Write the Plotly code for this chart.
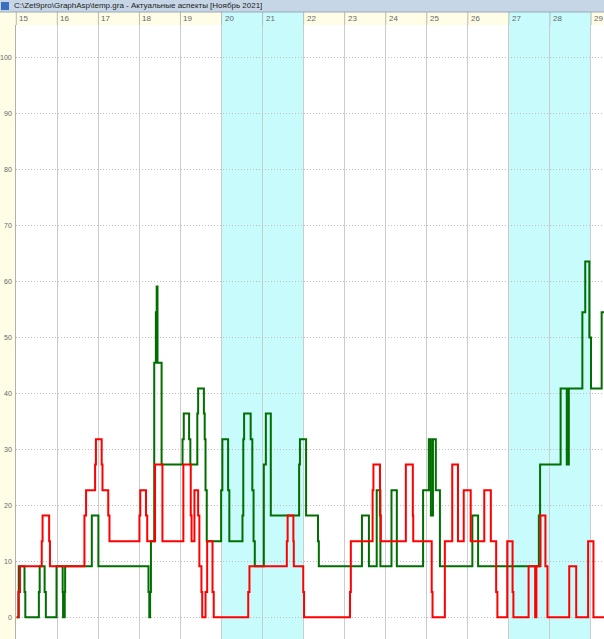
import plotly.graph_objects as go

# ---------------- data ----------------
days = list(range(15, 30))
shaded_days = [(20, 22), (27, 29)]
y_ticks = [0, 10, 20, 30, 40, 50, 60, 70, 80, 90, 100]

red_t = [15.01, 15.05, 15.09, 15.62, 15.64, 15.80, 15.82, 16.66, 16.70, 16.92, 16.94,
         17.08, 17.10, 17.24, 17.27, 18.00, 18.02, 18.16, 18.19, 18.38, 18.56, 19.07,
         19.25, 19.27, 19.34, 19.43, 19.46, 19.51, 19.53, 19.61, 19.65, 19.78, 19.81,
         20.65, 20.68, 21.59, 21.61, 21.75, 21.76, 21.99, 22.01, 23.13, 23.15, 23.68,
         23.70, 23.86, 23.88, 24.49, 24.66, 24.67, 25.12, 25.14, 25.44, 25.62, 25.76,
         25.90, 26.07, 26.40, 26.56, 26.69, 26.72, 26.96, 27.09, 27.11, 27.48, 27.64,
         27.67, 27.77, 27.89, 27.94, 28.47, 28.64, 28.93, 29.06, 29.32]
red_v = [0, 4.5, 9.1, 13.6, 18.2, 13.6, 9.1, 18.2, 22.7, 27.3, 31.8,
         27.3, 22.7, 18.2, 13.6, 18.2, 22.7, 18.2, 13.6, 27.3, 13.6, 27.3,
         18.2, 13.6, 22.7, 18.2, 9.1, 4.5, 0, 4.5, 13.6, 4.5, 0,
         4.5, 9.1, 13.6, 18.2, 13.6, 9.1, 4.5, 0, 4.5, 13.6, 22.7,
         27.3, 18.2, 13.6, 27.3, 18.2, 13.6, 4.5, 0, 13.6, 27.3, 13.6,
         22.7, 13.6, 22.7, 13.6, 4.5, 0, 13.6, 4.5, 0, 9.1, 0,
         9.1, 18.2, 9.1, 0, 9.1, 0, 13.6, 0, 0]

green_t = [15.01, 15.06, 15.20, 15.22, 15.55, 15.57, 15.69, 15.72, 15.98, 16.13, 16.14,
           16.18, 16.19, 16.84, 17.00, 18.22, 18.24, 18.26, 18.28, 18.36, 18.40, 18.42,
           18.44, 18.54, 19.05, 19.08, 19.21, 19.24, 19.41, 19.43, 19.57, 19.59, 19.61,
           19.64, 19.99, 20.02, 20.16, 20.19, 20.51, 20.53, 20.55, 20.71, 20.75, 20.78,
           20.81, 21.03, 21.08, 21.20, 21.89, 21.91, 22.06, 22.35, 22.37, 23.42, 23.59,
           23.78, 23.87, 24.14, 24.27, 24.91, 25.05, 25.10, 25.15, 25.22, 25.32, 26.11,
           26.25, 27.73, 27.76, 28.26, 28.41, 28.46, 28.79, 28.86, 28.96, 29.00,
           29.26, 29.32]
green_v = [0, 9.1, 4.5, 0, 4.5, 9.1, 4.5, 0, 9.1, 4.5, 0,
           4.5, 9.1, 18.2, 9.1, 4.5, 0, 4.5, 13.6, 45.5, 54.5, 59.1,
           45.5, 27.3, 31.8, 36.4, 31.8, 27.3, 36.4, 40.9, 36.4, 31.8, 22.7,
           13.6, 22.7, 31.8, 22.7, 13.6, 18.2, 31.8, 36.4, 31.8, 22.7, 13.6,
           9.1, 27.3, 36.4, 18.2, 27.3, 31.8, 18.2, 13.6, 9.1, 18.2, 9.1,
           22.7, 9.1, 22.7, 9.1, 22.7, 31.8, 18.2, 31.8, 22.7, 9.1, 18.2,
           9.1, 18.2, 27.3, 40.9, 27.3, 40.9, 54.5, 63.6, 50, 40.9,
           54.5, 54.5]

title_text = "C:\\Zet9pro\\GraphAsp\\temp.gra - Актуальные аспекты [Ноябрь 2021]"

# ---------------- layout geometry ----------------
W, H = 604, 639
ML, MT = 16, 25
PW, PH = W - ML, H - MT
X0, X1 = 14.993, 29.317
Y0, Y1 = -3.88, 105.85


def px(d):
    return (d - X0) / (X1 - X0)


def pyp(pix_above_plot):
    return 1 + pix_above_plot / PH


fig = go.Figure()
fig.add_trace(go.Scatter(x=green_t, y=green_v, mode="lines", line_shape="hv",
                         line=dict(color="#006e00", width=2), hoverinfo="skip"))
fig.add_trace(go.Scatter(x=red_t, y=red_v, mode="lines", line_shape="hv",
                         line=dict(color="#ff0000", width=2), hoverinfo="skip"))

shapes = []
for a, b in shaded_days:
    shapes.append(dict(type="rect", xref="paper", yref="paper", x0=px(a), x1=px(b),
                       y0=0, y1=pyp(13), fillcolor="#c8fcfc", line_width=0, layer="below"))
for d in days:
    shapes.append(dict(type="line", xref="paper", yref="paper", x0=px(d), x1=px(d),
                       y0=1, y1=pyp(13), line=dict(color="#b8b8b8", width=1)))
shapes.append(dict(type="rect", xref="paper", yref="paper", x0=-ML / PW, x1=1,
                   y0=pyp(13), y1=pyp(25), fillcolor="#c6d6e6", line_width=0, layer="above"))
shapes.append(dict(type="line", xref="paper", yref="paper", x0=-ML / PW, x1=1,
                   y0=pyp(13), y1=pyp(13), line=dict(color="#9aa8b8", width=1)))
shapes.append(dict(type="rect", xref="paper", yref="paper", x0=-15 / PW, x1=-7 / PW,
                   y0=pyp(15), y1=pyp(23), fillcolor="#3c6fc0", line_width=0, layer="above"))

annotations = []
for d in days:
    annotations.append(dict(x=px(d), y=pyp(6.5), xref="paper", yref="paper", text=str(d),
                            showarrow=False, xanchor="left", yanchor="middle", xshift=1,
                            font=dict(family="Liberation Sans", size=8, color="#666666")))
for v in y_ticks:
    annotations.append(dict(x=0, y=v, xref="paper", yref="y", text=str(v),
                            showarrow=False, xanchor="right", yanchor="middle", xshift=-2,
                            font=dict(family="Liberation Sans", size=7, color="#666666")))
annotations.append(dict(x=-ML / PW, y=pyp(19), xref="paper", yref="paper", text=title_text,
                        showarrow=False, xanchor="left", yanchor="middle", xshift=12,
                        font=dict(family="Liberation Sans", size=8, color="#222222")))

fig.update_layout(
    width=W, height=H,
    margin=dict(l=ML, r=0, t=MT, b=0, pad=0),
    paper_bgcolor="#fffde6",
    plot_bgcolor="#ffffff",
    showlegend=False,
    shapes=shapes,
    annotations=annotations,
    xaxis=dict(range=[X0, X1], showticklabels=False, ticks="", showgrid=True,
               tick0=15, dtick=1, gridcolor="#cccccc", gridwidth=1, zeroline=False,
               showline=False, fixedrange=True),
    yaxis=dict(range=[Y0, Y1], showticklabels=False, ticks="", showgrid=True,
               tick0=0, dtick=10, gridcolor="#bdbdbd", gridwidth=1, griddash="1px,2px",
               zeroline=False, showline=True, linecolor="#b0b0b0", linewidth=1,
               fixedrange=True),
)

fig.write_html("out.html", config={"displayModeBar": False})

# remove the browser's default body margin so the figure fills the window
with open("out.html", "r", encoding="utf-8") as f:
    html = f.read()
html = html.replace("<head>", "<head><style>html,body{margin:0;padding:0;overflow:hidden;}</style>", 1)
with open("out.html", "w", encoding="utf-8") as f:
    f.write(html)
